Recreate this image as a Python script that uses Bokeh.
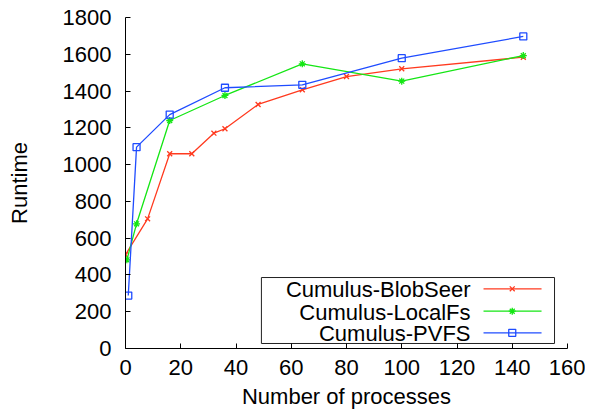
from bokeh.plotting import figure
from bokeh.models import FixedTicker, Range1d
from bokeh.core.properties import value
from bokeh.embed import file_html
from bokeh.resources import INLINE

# ---- data ----
blobseer_x = [0, 8, 16, 24, 32, 36, 48, 64, 80, 100, 144]
blobseer_y = [510, 705, 1059, 1059, 1171, 1195, 1327, 1407, 1479, 1521, 1584]

localfs_x = [0.5, 4, 16, 36, 64, 100, 144]
localfs_y = [482, 678, 1240, 1376, 1548, 1454, 1593]

pvfs_x = [1, 4, 16, 36, 64, 100, 144]
pvfs_y = [288, 1095, 1272, 1418, 1434, 1579, 1697]

series_names = ["Cumulus-BlobSeer", "Cumulus-LocalFs", "Cumulus-PVFS"]
x_ticks = [0, 20, 40, 60, 80, 100, 120, 140, 160]
y_ticks = [0, 200, 400, 600, 800, 1000, 1200, 1400, 1600, 1800]

FONT = "Liberation Sans"
FS = "22px"
RED, GREEN, BLUE = "#ff3a1f", "#14e614", "#1f4cff"

p = figure(width=585, height=414, output_backend="svg", toolbar_location=None,
           x_range=Range1d(0, 160), y_range=Range1d(0, 1800),
           min_border_left=125, min_border_right=18, min_border_top=17, min_border_bottom=66)
p.outline_line_color = None
p.grid.visible = False
p.background_fill_color = "white"
p.border_fill_color = "white"

for ax, ticks in ((p.xaxis[0], x_ticks), (p.yaxis[0], y_ticks)):
    ax.ticker = FixedTicker(ticks=ticks)
    ax.minor_tick_line_color = None
    ax.major_tick_in = 5
    ax.major_tick_out = 0
    ax.axis_line_color = "black"
    ax.major_tick_line_color = "black"
    ax.major_label_text_font = FONT
    ax.major_label_text_font_size = FS
    ax.major_label_text_color = "black"
    ax.axis_label_text_font = FONT
    ax.axis_label_text_font_size = FS
    ax.axis_label_text_font_style = "normal"
    ax.axis_label_text_color = "black"

p.xaxis.axis_label = "Number of processes"
p.yaxis.axis_label = "Runtime"
p.xaxis.major_label_standoff = 11
p.xaxis.axis_label_standoff = 6
p.yaxis.major_label_standoff = 14
p.yaxis.axis_label_standoff = 28

# series
p.line(blobseer_x, blobseer_y, color=RED, line_width=1.3)
p.scatter(blobseer_x, blobseer_y, marker="x", size=7, line_color=RED, line_width=1.3)
p.line(localfs_x, localfs_y, color=GREEN, line_width=1.3)
p.scatter(localfs_x, localfs_y, marker="asterisk", size=7, line_color=GREEN, line_width=1.3)
p.line(pvfs_x, pvfs_y, color=BLUE, line_width=1.3)
p.scatter(pvfs_x, pvfs_y, marker="square", size=7, line_color=BLUE, fill_color=None, line_width=1.3)

# legend (gnuplot style: text right-aligned, sample on the right)
p.quad(left=[49.2], right=[155.3], bottom=[27.2], top=[386.0],
       fill_color="white", line_color="#222222", line_width=1)
rows_y = [324.6, 202.8, 85.4]
colors = [RED, GREEN, BLUE]
markers = ["x", "asterisk", "square"]
p.text(x=[124.9] * 3, y=[yy - 6 for yy in rows_y], text=series_names,
       text_font=value(FONT), text_font_size=FS, text_align="right",
       text_baseline="middle", text_color="black")
for yy, c, m in zip(rows_y, colors, markers):
    p.line([129.6, 150.6], [yy, yy], color=c, line_width=1.3)
    p.scatter([140], [yy], marker=m, size=7, line_color=c, fill_color=None, line_width=1.3)

open("out.html", "w").write(file_html(p, INLINE))
